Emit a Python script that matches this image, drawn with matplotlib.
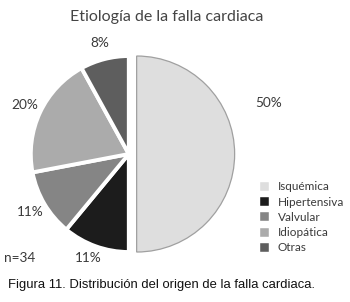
import matplotlib
matplotlib.use('Agg')
import matplotlib.pyplot as plt

CATEGORIES = ['Isquémica', 'Hipertensiva', 'Valvular', 'Idiopática', 'Otras']
SHARES = [50, 11, 11, 20, 8]
PCT_LABELS = ['50%', '11%', '11%', '20%', '8%']
N_TEXT = 'n=34'
TITLE = 'Etiología de la falla cardiaca'
CAPTION = 'Figura 11. Distribución del origen de la falla cardiaca.'

COLORS = ['#dedede', '#1c1c1c', '#858585', '#ababab', '#5e5e5e']
TEXT_COLOR = '#3a3a3a'
FONT = ['Lato', 'DejaVu Sans']

fig = plt.figure(figsize=(3.5, 3.02), dpi=100)
ax = fig.add_axes([0.004, 0.068, 0.728, 0.844])

wedges, texts = ax.pie(SHARES, labels=PCT_LABELS, colors=COLORS, startangle=90,
                       counterclock=False, explode=[0.08, 0, 0, 0, 0],
                       labeldistance=1.17,
                       wedgeprops=dict(linewidth=2.8, edgecolor='white'),
                       textprops=dict(fontsize=9.8, color=TEXT_COLOR, family=FONT))
# the big slice keeps a thin grey outline instead of the white gap line
wedges[0].set_edgecolor('#a0a0a0')
wedges[0].set_linewidth(0.9)
for t in texts:
    t.set_horizontalalignment('center')
    t.set_verticalalignment('center')
# the 50% label sits up and to the right of its slice
texts[0].set_position((1.43, 0.52))
texts[1].set_position((-0.41, -1.06))

ax.set_xlim(-1.3, 1.3)
ax.set_ylim(-1.3, 1.3)
ax.set_aspect('equal')
ax.axis('off')

fig.text(0.475, 0.945, TITLE, ha='center', va='center', fontsize=11.5,
         color='#444444', family=FONT)
fig.text(0.012, 0.145, N_TEXT, ha='left', va='center', fontsize=9.8,
         color=TEXT_COLOR, family=FONT)
fig.text(0.022, 0.057, CAPTION, ha='left', va='center', fontsize=9.4,
         color='#111111', family=['Liberation Sans', 'DejaVu Sans'])

leg = fig.legend(wedges, CATEGORIES, loc='upper left', bbox_to_anchor=(0.728, 0.415),
                 frameon=False, handlelength=0.8, handleheight=0.8,
                 handletextpad=0.75, labelspacing=0.36, borderaxespad=0,
                 prop=dict(family=FONT, size=8.5))
for h in leg.legend_handles:
    h.set_edgecolor('white')
    h.set_linewidth(0.3)
for t in leg.get_texts():
    t.set_color(TEXT_COLOR)

fig.savefig('out.png', dpi=100, facecolor='white')
